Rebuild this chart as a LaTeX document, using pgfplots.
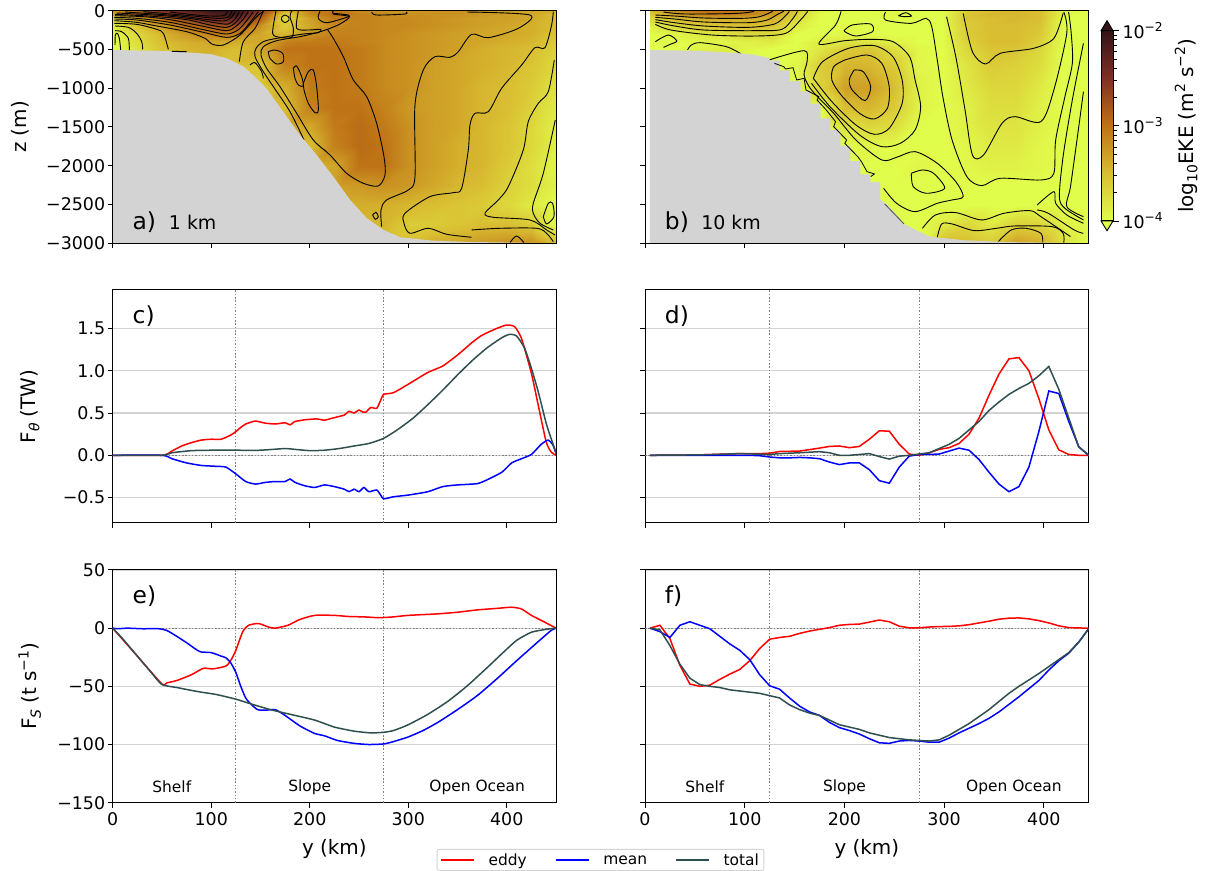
\documentclass[border=0pt]{standalone}
\usepackage{fontspec}
\setmainfont{DejaVu Sans}
\usepackage{pgfplots}
\pgfplotsset{compat=1.18}
\definecolor{dslate}{RGB}{47,79,79}
\definecolor{lgray}{RGB}{211,211,211}
\newcommand{\fs}[1]{\fontsize{#1}{#1}\selectfont}
\newcommand{\sups}[2]{\raisebox{0.42em}{\fs{#1}#2}}
\newcommand{\subs}[2]{\raisebox{-0.2em}{\fs{#1}#2}}
\def\zrow{(-40*(\coordindex>18)-60*(\coordindex>37)-100*(\coordindex>56)-100*(\coordindex>75)-100*(\coordindex>94)-100*(\coordindex>113)-200*(\coordindex>132)-300*(\coordindex>151)-250*(\coordindex>170)-250*(\coordindex>189)-250*(\coordindex>208)-250*(\coordindex>227)-250*(\coordindex>246)-250*(\coordindex>265)-250*(\coordindex>284)-250*(\coordindex>303))}
\pgfplotsset{
 colormap={solar}{rgb255=(225,253,75) rgb255=(217,190,50) rgb255=(190,115,22) rgb255=(128,48,35) rgb255=(52,20,25)},
 base/.style={scale only axis, anchor=south west, tick align=outside, major tick length=5bp,
   xtick pos=bottom, ytick pos=left, minor tick num=0, axis line style={line width=1bp},
   every tick/.append style={line width=1bp,black},
   tick label style={font=\fs{17.5}}, xticklabel style={yshift=-1bp}, yticklabel style={xshift=1bp},
   every axis x label/.style={at={(axis description cs:0.5,-0.2)},anchor=center,font=\fs{20}},
   xtick={0,100,200,300,400}},
 left/.style={xmin=0,xmax=450,width=443.3bp},
 right/.style={xmin=0,xmax=445,width=443.7bp},
 field/.style={surf,shader=interp,mesh/cols=19,point meta=\thisrowno{0},
   colormap name=solar,point meta min=-4,point meta max=-2},
 cA/.style={black,line width=0.9bp,smooth,tension=0.5,x filter/.expression={(x-38)*0.3383},y filter/.expression={-(y-32)*4.298}},
 cB/.style={black,line width=0.9bp,smooth,tension=0.5,x filter/.expression={(x-40)/2.695},y filter/.expression={-(y-32)*4.298}},
 dots/.style={gray,line width=1.3bp,dash pattern=on 1.5bp off 1.8bp,forget plot},
 eddy/.style={red,line width=1.5bp},
 mean/.style={blue,line width=1.5bp},
 total/.style={dslate,line width=1.5bp},
 soft/.style={smooth,tension=0.35},
 cd/.style={ymin=-0.8,ymax=1.954,height=233bp,ytick={-0.5,0,0.5,1,1.5},ymajorgrids,
   major grid style={lgray,line width=1.3bp},xticklabels={}},
 ef/.style={ymin=-150,ymax=50,height=232.7bp,ytick={-150,-100,-50,0,50},ymajorgrids,
   major grid style={lgray,line width=0.9bp},xticklabels={0,100,200,300,400},xlabel={y (km)}},
 ab/.style={ymin=-3000,ymax=0,height=232.6bp,ytick={-3000,-2500,-2000,-1500,-1000,-500,0},xticklabels={},axis on top},
}
\begin{document}
\begin{tikzpicture}[x=1bp,y=1bp]
\path[use as bounding box] (0,0) rectangle (1211,871);
% ---------- panel a
\begin{axis}[base,left,ab,at={(112.7bp,627.7bp)},
  yticklabels={−3000,−2500,−2000,−1500,−1000,−500,0},
  ylabel={z (m)},every axis y label/.style={at={(axis description cs:-0.209,0.5)},rotate=90,anchor=center,font=\fs{20}}]
\addplot[field] table[row sep=\\,header=false,x expr={mod(\coordindex,19)*25},y expr={\zrow}]{
-3.25\\-2.85\\-2.5\\-2.3\\-2.05\\-2.0\\-2.6\\-3.4\\-3.1\\-3.0\\-3.15\\-3.2\\-3.25\\-3.2\\-3.2\\-3.25\\-3.3\\-3.35\\-3.4\\
-3.35\\-2.95\\-2.7\\-2.45\\-2.2\\-2.05\\-2.7\\-3.65\\-3.15\\-2.95\\-3.1\\-3.15\\-3.2\\-3.2\\-3.2\\-3.25\\-3.3\\-3.35\\-3.5\\
-3.7\\-3.3\\-3.0\\-2.65\\-2.4\\-2.3\\-2.85\\-3.7\\-3.3\\-3.05\\-3.1\\-3.15\\-3.15\\-3.2\\-3.25\\-3.3\\-3.3\\-3.35\\-3.5\\
-3.9\\-3.55\\-3.3\\-3.0\\-2.8\\-2.75\\-3.2\\-3.6\\-3.35\\-3.15\\-3.1\\-3.15\\-3.15\\-3.2\\-3.25\\-3.3\\-3.35\\-3.4\\-3.5\\
-3.95\\-3.7\\-3.45\\-3.25\\-3.1\\-3.1\\-3.35\\-3.45\\-3.2\\-3.1\\-3.1\\-3.15\\-3.2\\-3.25\\-3.3\\-3.35\\-3.35\\-3.4\\-3.55\\
-4\\-3.75\\-3.5\\-3.4\\-3.35\\-3.4\\-3.35\\-3.1\\-3.05\\-3.05\\-3.1\\-3.15\\-3.2\\-3.25\\-3.3\\-3.35\\-3.4\\-3.45\\-3.6\\
-4\\-3.8\\-3.55\\-3.45\\-3.4\\-3.5\\-3.35\\-3.0\\-3.0\\-3.0\\-3.05\\-3.15\\-3.2\\-3.25\\-3.3\\-3.4\\-3.45\\-3.5\\-3.65\\
-3.5\\-3.5\\-3.5\\-3.5\\-3.5\\-3.5\\-3.55\\-3.1\\-3.0\\-3.0\\-3.05\\-3.15\\-3.2\\-3.3\\-3.35\\-3.4\\-3.45\\-3.55\\-3.7\\
-3.6\\-3.6\\-3.6\\-3.6\\-3.6\\-3.6\\-3.6\\-3.4\\-3.05\\-3.0\\-3.05\\-3.15\\-3.2\\-3.3\\-3.35\\-3.45\\-3.5\\-3.6\\-3.8\\
-3.5\\-3.5\\-3.5\\-3.5\\-3.5\\-3.5\\-3.5\\-3.5\\-3.1\\-3.0\\-3.0\\-3.1\\-3.25\\-3.3\\-3.35\\-3.45\\-3.5\\-3.65\\-3.85\\
-3.4\\-3.4\\-3.4\\-3.4\\-3.4\\-3.4\\-3.4\\-3.4\\-3.35\\-3.05\\-2.95\\-3.05\\-3.2\\-3.3\\-3.35\\-3.45\\-3.55\\-3.7\\-3.9\\
-3.5\\-3.5\\-3.5\\-3.5\\-3.5\\-3.5\\-3.5\\-3.5\\-3.5\\-3.1\\-2.95\\-3.0\\-3.2\\-3.3\\-3.4\\-3.45\\-3.55\\-3.7\\-3.9\\
-3.4\\-3.4\\-3.4\\-3.4\\-3.4\\-3.4\\-3.4\\-3.4\\-3.4\\-3.35\\-3.0\\-3.0\\-3.2\\-3.3\\-3.4\\-3.45\\-3.6\\-3.75\\-3.95\\
-3.3\\-3.3\\-3.3\\-3.3\\-3.3\\-3.3\\-3.3\\-3.3\\-3.3\\-3.3\\-3.25\\-3.2\\-3.25\\-3.35\\-3.45\\-3.5\\-3.65\\-3.75\\-3.9\\
-3.4\\-3.4\\-3.4\\-3.4\\-3.4\\-3.4\\-3.4\\-3.4\\-3.4\\-3.4\\-3.4\\-3.4\\-3.45\\-3.5\\-3.55\\-3.6\\-3.7\\-3.85\\-4\\
-3.45\\-3.45\\-3.45\\-3.45\\-3.45\\-3.45\\-3.45\\-3.45\\-3.45\\-3.45\\-3.45\\-3.45\\-3.6\\-3.6\\-3.55\\-3.5\\-3.5\\-3.6\\-4\\
-3.5\\-3.5\\-3.5\\-3.5\\-3.5\\-3.5\\-3.5\\-3.5\\-3.5\\-3.5\\-3.5\\-3.5\\-3.5\\-3.4\\-3.35\\-3.25\\-3.2\\-3.2\\-3.5\\
};
% contours a (traced on the picture)
\addplot[cA] coordinates {(682,88)(700,115)(730,170)(760,240)(800,290)(830,370)(852,470)(855,525)(835,558)(790,550)(740,520)(690,465)(640,420)(590,340)(540,260)(500,205)(483,165)(490,140)(530,122)(600,110)(650,98)(682,88)(720,72)(748,50)(700,42)(700,33)};
\addplot[cA] coordinates {(595,33)(590,85)(625,90)(662,88)(655,98)(610,102)(530,115)(490,125)(468,145)(465,170)(490,215)(520,260)(570,335)(612,420)};
\addplot[cA] coordinates {(660,33)(655,55)(680,68)(740,52)(745,45)(700,40)};
\addplot[cA] coordinates {(490,33)(465,85)(430,125)(418,185)};
\addplot[cA] coordinates {(528,33)(518,100)(540,112)(575,112)(580,85)(570,50)(575,33)};
\addplot[cA] coordinates {(555,45)(565,50)(567,60)(555,68)(545,60)(546,50)(555,45)};
\addplot[cA] coordinates {(505,155)(525,150)(548,160)(550,185)(530,192)(510,175)(505,155)};
\addplot[cA] coordinates {(580,205)(590,198)(605,230)(610,258)(595,255)(585,235)(580,205)};
\addplot[cA] coordinates {(610,250)(625,215)(640,210)(650,260)(655,330)(645,338)(625,310)(612,270)(610,250)};
\addplot[cA] coordinates {(815,36)(830,45)(915,42)(918,36)};
\addplot[cA] coordinates {(1102,36)(1290,45)(1255,85)(1165,113)(1115,103)(1075,155)(1050,172)(1005,170)(970,210)(945,315)(945,530)(925,570)(860,600)(843,630)(845,680)};
\addplot[cA] coordinates {(1360,35)(1355,75)(1335,143)(1305,143)(1265,195)(1205,265)(1165,335)(1125,340)(1110,375)(1105,450)(1085,565)(1060,578)(990,590)(915,640)(912,670)(930,700)(985,685)(1040,703)(1115,712)};
\addplot[cA] coordinates {(1363,180)(1345,275)(1315,310)(1285,365)(1270,450)(1225,560)(1195,600)(1155,640)(1180,652)(1290,660)(1340,690)(1365,705)};
\addplot[cA] coordinates {(1115,690)(1200,685)(1310,685)(1340,700)(1360,725)};
\addplot[cA] coordinates {(1366,360)(1330,520)(1300,610)(1300,640)(1320,670)(1360,690)};
\addplot[cA] coordinates {(1330,650)(1345,610)(1358,610)(1362,650)(1340,672)(1330,650)};
\addplot[cA] coordinates {(1230,728)(1250,708)(1272,728)};
\addplot[cA] coordinates {(818,645)(828,637)(835,650)(826,658)(818,645)};
\addplot[cA] coordinates {(450,195)(465,188)(485,215)(490,235)};
% left-hand stack
\addplot[cA] coordinates {(45,135)(46,105)(52,100)(58,115)(62,150)};
\addplot[cA] coordinates {(45,92)(65,95)(85,115)(88,150)};
\addplot[cA] coordinates {(45,78)(85,82)(110,100)(125,125)(128,148)};
\addplot[cA] coordinates {(43,70)(110,73)(170,88)(190,100)(205,148)};
\addplot[cA] coordinates {(43,62)(110,67)(170,78)(260,95)(315,115)(335,132)(370,135)(420,105)(470,50)(490,35)};
\addplot[cA] coordinates {(43,57)(110,60)(210,75)(310,97)(380,112)(420,100)(450,67)(475,35)};
\addplot[cA] coordinates {(43,52)(110,55)(210,67)(310,89)(380,102)(415,89)(440,62)(460,35)};
\addplot[cA] coordinates {(45,47)(130,50)(210,59)(310,79)(380,92)(410,77)(430,57)(445,35)};
\addplot[cA] coordinates {(45,43)(160,49)(260,59)(330,75)(380,82)(410,65)(430,35)};
\addplot[cA] coordinates {(50,39)(190,47)(280,57)(350,69)(385,72)(405,57)(418,35)};
\addplot[cA] coordinates {(75,36)(230,47)(310,57)(370,63)(395,51)(405,35)};
\addplot[cA] coordinates {(130,35)(270,47)(350,55)(385,51)(395,35)};
\addplot[cA] coordinates {(210,36)(310,47)(370,47)(382,35)};
% topography
\addplot[fill=lgray,draw=none] coordinates {(0,-507)(55,-520)(99,-559)(116,-615)(133,-722)(146,-872)(156,-1001)(173,-1302)(190,-1603)(207,-1861)(224,-2141)(241,-2441)(258,-2678)(275,-2828)(292,-2923)(325,-2966)(362,-2983)(450,-3000)(0,-3000)} --cycle;
\addplot[black,line width=1bp] coordinates {(60,-525)(75,-528)};
\node[anchor=base west,font=\fs{23.5}] at (rel axis cs:0.037,0.06) {a)};
\node[anchor=base west,font=\fs{19}] at (rel axis cs:0.119,0.06) {1 km};
\end{axis}
% ---------- panel b
\begin{axis}[base,right,ab,at={(645bp,627.7bp)},yticklabels={}]
\addplot[field] table[row sep=\\,header=false,x expr={5+mod(\coordindex,19)*24.444},y expr={\zrow}]{
-3.5\\-3.2\\-3.0\\-3.0\\-3.05\\-3.2\\-3.6\\-3.95\\-4\\-4\\-4\\-4\\-4\\-3.6\\-3.5\\-3.45\\-3.5\\-3.95\\-4\\
-3.6\\-3.3\\-3.1\\-3.05\\-3.1\\-3.25\\-3.65\\-4\\-4\\-4\\-3.95\\-4\\-4\\-3.55\\-3.45\\-3.45\\-3.5\\-3.95\\-4\\
-3.7\\-3.5\\-3.4\\-3.35\\-3.4\\-3.4\\-3.7\\-4\\-4\\-4\\-4\\-4\\-4\\-3.55\\-3.5\\-3.45\\-3.5\\-4\\-4\\
-3.9\\-3.7\\-3.6\\-3.55\\-3.5\\-3.55\\-3.85\\-4\\-4\\-4\\-4\\-4\\-4\\-3.6\\-3.5\\-3.5\\-3.55\\-4\\-4\\
-4\\-3.95\\-3.85\\-3.8\\-3.7\\-3.7\\-4\\-4\\-3.95\\-4\\-4\\-4\\-4\\-3.6\\-3.5\\-3.5\\-3.6\\-4\\-4\\
-4\\-4\\-3.95\\-3.95\\-3.9\\-3.85\\-4\\-3.85\\-3.8\\-3.8\\-3.9\\-4\\-4\\-3.65\\-3.5\\-3.5\\-3.65\\-4\\-4\\
-4\\-4\\-3.9\\-3.85\\-3.95\\-4\\-4\\-3.8\\-3.6\\-3.55\\-3.75\\-3.95\\-4\\-3.7\\-3.55\\-3.55\\-3.7\\-4\\-4\\
-4\\-4\\-4\\-4\\-4\\-4\\-3.95\\-3.6\\-3.45\\-3.45\\-3.6\\-3.95\\-4\\-3.8\\-3.6\\-3.65\\-3.75\\-4\\-4\\
-4\\-4\\-4\\-4\\-4\\-4\\-4\\-3.65\\-3.3\\-3.3\\-3.5\\-3.9\\-4\\-3.85\\-3.7\\-3.7\\-3.85\\-4\\-4\\
-4\\-4\\-4\\-4\\-4\\-4\\-4\\-4\\-3.5\\-3.45\\-3.6\\-3.9\\-4\\-3.9\\-3.75\\-3.75\\-3.9\\-4\\-4\\
-4\\-4\\-4\\-4\\-4\\-4\\-4\\-4\\-3.8\\-3.7\\-3.75\\-4\\-4\\-3.9\\-3.8\\-3.8\\-3.9\\-4\\-4\\
-4\\-4\\-4\\-4\\-4\\-4\\-4\\-4\\-4\\-3.95\\-4\\-4\\-4\\-3.95\\-3.85\\-3.85\\-3.95\\-4\\-4\\
-4\\-4\\-4\\-4\\-4\\-4\\-4\\-4\\-4\\-4\\-4\\-3.95\\-4\\-3.95\\-3.9\\-3.9\\-3.95\\-4\\-4\\
-4\\-4\\-4\\-4\\-4\\-4\\-4\\-4\\-4\\-4\\-4\\-4\\-4\\-4\\-4\\-4\\-4\\-4\\-4\\
-4\\-4\\-4\\-4\\-4\\-4\\-4\\-4\\-4\\-4\\-4\\-4\\-4\\-4\\-4\\-4\\-4\\-4\\-4\\
-4\\-4\\-4\\-4\\-4\\-4\\-4\\-4\\-4\\-4\\-4\\-4\\-3.85\\-3.7\\-3.85\\-3.65\\-3.7\\-3.9\\-4\\
-4\\-4\\-4\\-4\\-4\\-4\\-4\\-4\\-4\\-4\\-4\\-4\\-3.5\\-3.5\\-3.6\\-3.3\\-3.4\\-3.8\\-4\\
};
\addplot[cB] coordinates {(90,36)(150,42)(290,40)(335,34)};
\addplot[cB] coordinates {(68,45)(120,48)(200,54)(300,55)(350,50)(385,34)};
\addplot[cB] coordinates {(68,52)(120,57)(200,66)(320,68)(370,60)(400,42)(415,34)};
\addplot[cB] coordinates {(68,59)(120,68)(200,78)(320,82)(390,72)(420,47)(430,34)};
\addplot[cB] coordinates {(68,66)(120,78)(200,90)(340,92)(410,88)(440,55)(452,34)};
\addplot[cB] coordinates {(68,73)(110,90)(220,105)(340,108)(420,100)(460,60)(480,34)};
\addplot[cB] coordinates {(68,125)(103,105)(126,123)(108,133)(90,142)};
\addplot[cB] coordinates {(155,150)(165,135)(190,128)(260,140)(300,162)};
\addplot[cB] coordinates {(375,180)(470,152)(478,185)(470,225)(490,270)(550,340)(610,420)(680,480)(720,472)(770,455)(830,490)(880,545)(900,590)(870,600)(830,610)(770,635)(720,610)(685,565)};
\addplot[cB] coordinates {(605,210)(630,215)(650,260)(635,302)(600,270)(592,240)(605,210)};
\addplot[cB] coordinates {(580,180)(640,165)(680,190)(700,260)(695,325)(660,357)(620,340)(570,285)(545,240)(550,200)(580,180)};
\addplot[cB] coordinates {(495,235)(520,185)(590,145)(660,137)(710,170)(735,240)(735,310)(700,385)(660,403)(610,375)(545,305)(495,235)};
\addplot[cB] coordinates {(570,34)(555,75)(510,132)(580,122)(650,118)(710,125)(755,170)(770,240)(785,320)(770,390)(730,430)(680,440)(620,405)(540,320)(490,250)};
\addplot[cB] coordinates {(580,90)(600,75)(650,72)(655,95)(610,108)(580,95)(580,90)};
\addplot[cB] coordinates {(725,47)(745,38)(760,48)(740,50)(725,47)};
\addplot[cB] coordinates {(690,36)(690,60)(760,70)(800,55)(815,80)(830,180)(845,290)(870,420)(910,530)(950,557)(1000,535)(1110,540)(1145,520)(1150,420)(1175,290)(1195,190)(1192,100)(1185,36)};
\addplot[cB] coordinates {(855,50)(880,170)(905,330)(925,465)(955,465)(1005,370)(1040,350)(1110,365)(1145,270)(1180,100)(1172,36)};
\addplot[cB] coordinates {(900,40)(925,155)(960,192)(1000,160)(1090,145)(1145,115)(1170,40)};
\addplot[cB] coordinates {(760,520)(790,510)(820,520)(850,565)(800,580)(765,560)(760,520)};
\addplot[cB] coordinates {(1225,275)(1210,400)(1190,560)(1180,620)(1225,650)};
\addplot[cB] coordinates {(1225,130)(1195,300)(1170,470)(1160,590)(1175,625)(1225,660)};
\addplot[cB] coordinates {(1100,615)(1145,575)(1150,610)(1180,645)(1225,670)};
\addplot[cB] coordinates {(790,685)(825,645)(880,638)(950,660)(1010,640)(1080,632)(1110,650)(1190,710)};
\addplot[cB] coordinates {(830,712)(842,672)(870,672)(930,692)(990,685)(1040,678)(1140,680)(1170,700)(1172,728)};
\addplot[cB] coordinates {(995,725)(1030,690)(1070,685)(1110,700)(1115,728)};
\addplot[cB] coordinates {(1100,630)(1130,640)(1200,690)(1225,700)};
\addplot[fill=lgray,draw=none] coordinates {(5,-507)(55,-518)(92,-545)(110,-570)(125,-610)(125,-640)(135,-640)(135,-770)(145,-770)(145,-910)(156,-910)(156,-1040)(166,-1040)(166,-1200)(176,-1200)(176,-1390)(186,-1390)(186,-1540)(196,-1540)(196,-1740)(206,-1740)(206,-1940)(216,-1940)(216,-2110)(226,-2110)(226,-2210)(236,-2210)(236,-2440)(243,-2500)(260,-2750)(275,-2850)(286,-2915)(319,-2960)(364,-2985)(445,-3000)(5,-3000)} --cycle;
\addplot[black,line width=0.8bp,x filter/.expression={(x-40)/2.695},y filter/.expression={-(y-32)*4.298}] coordinates {(390,190)(415,200)(420,207)(440,203)(450,240)(470,235)(475,270)(510,290)(505,300)(530,330)(555,365)(550,380)(585,420)(580,430)(615,470)(625,485)(640,515)(660,522)(650,530)};
\addplot[black!70,line width=0.8bp,x filter/.expression={(x-40)/2.695},y filter/.expression={-(y-32)*4.298}] coordinates {(688,612)(740,672)};
\node[anchor=base west,font=\fs{23.5}] at (rel axis cs:0.037,0.06) {b)};
\node[anchor=base west,font=\fs{19}] at (rel axis cs:0.119,0.06) {10 km};
\end{axis}
% ---------- colour bar (y is log10 of EKE)
\begin{axis}[scale only axis,anchor=south west,at={(1101bp,650bp)},width=12bp,height=190.3bp,
  ymin=-4,ymax=-2,xmin=0,xmax=1,xtick=\empty,clip=false,
  ytick pos=right,yticklabel pos=right,tick align=outside,major tick length=6bp,minor tick length=3.5bp,
  axis line style={line width=1bp},every tick/.append style={line width=0.9bp,black},
  ytick={-4,-3,-2},yticklabels={10\sups{12.3}{−4},10\sups{12.3}{−3},10\sups{12.3}{−2}},
  minor ytick={-3.699,-3.523,-3.398,-3.301,-3.222,-3.155,-3.097,-3.046,-2.699,-2.523,-2.398,-2.301,-2.222,-2.155,-2.097,-2.046},
  yticklabel style={font=\fs{17.5}},
  ylabel={log\subs{14}{10}EKE (m\sups{14}{2} s\sups{14}{−2})},
  every axis y label/.style={at={(axis description cs:7.1,0.5)},rotate=90,anchor=center,font=\fs{20}},
  axis on top]
\addplot[surf,shader=interp,mesh/cols=2,colormap name=solar,point meta=explicit,point meta min=-4,point meta max=-2] coordinates {(0,-4)[-4] (1,-4)[-4] (0,-2)[-2] (1,-2)[-2]};
\addplot[fill={rgb,255:red,52;green,20;blue,25},draw=black,line width=0.9bp] coordinates {(0,-2)(0.5,-1.895)(1,-2)} --cycle;
\addplot[fill={rgb,255:red,225;green,253;blue,75},draw=black,line width=0.9bp] coordinates {(0,-4)(0.5,-4.102)(1,-4)} --cycle;
\end{axis}
% ---------- panel c
\begin{axis}[base,left,cd,at={(112.7bp,348bp)},
  yticklabels={−0.5,0.0,0.5,1.0,1.5},
  ylabel={F\subs{14}{\itshape θ} (TW)},every axis y label/.style={at={(axis description cs:-0.187,0.5)},rotate=90,anchor=center,font=\fs{20}}]
\addplot[dots] coordinates {(125,-0.8)(125,1.954)};
\addplot[dots] coordinates {(275,-0.8)(275,1.954)};
\addplot[dots] coordinates {(0,0)(450,0)};
\addplot[eddy,soft] coordinates {(0,0)(50,0)(60,0.05)(70,0.11)(80,0.15)(90,0.18)(100,0.19)(110,0.19)(120,0.24)(125,0.28)(130,0.33)(135,0.37)(140,0.39)(145,0.405)(155,0.38)(165,0.37)(175,0.385)(180,0.36)(185,0.40)(190,0.41)(195,0.42)(200,0.425)(207,0.43)(215,0.415)(220,0.43)(225,0.445)(230,0.46)(235,0.475)(240,0.52)(245,0.50)(250,0.535)(254,0.51)(257,0.51)(262,0.565)(268,0.555)(272,0.65)(275,0.72)(285,0.74)(300,0.84)(320,0.98)(335,1.055)(350,1.185)(365,1.335)(375,1.42)(390,1.50)(400,1.54)(408,1.52)(415,1.38)(425,0.97)(432,0.59)(440,0.16)(445,0.04)(450,0)};
\addplot[mean,soft] coordinates {(0,0)(50,0)(60,-0.04)(75,-0.09)(90,-0.12)(105,-0.13)(115,-0.14)(125,-0.22)(135,-0.31)(145,-0.34)(155,-0.32)(165,-0.31)(175,-0.31)(180,-0.28)(185,-0.32)(195,-0.36)(205,-0.38)(215,-0.35)(225,-0.37)(235,-0.4)(240,-0.43)(245,-0.4)(250,-0.43)(255,-0.38)(260,-0.43)(268,-0.41)(272,-0.47)(275,-0.515)(285,-0.49)(300,-0.47)(320,-0.43)(335,-0.37)(350,-0.35)(370,-0.335)(380,-0.29)(395,-0.2)(405,-0.09)(415,-0.04)(425,0.01)(435,0.13)(442,0.18)(447,0.12)(450,0.02)};
\addplot[total,soft] coordinates {(0,0)(50,0)(60,0.03)(80,0.055)(100,0.06)(125,0.06)(150,0.06)(175,0.08)(185,0.07)(200,0.055)(215,0.06)(230,0.08)(245,0.11)(260,0.14)(275,0.20)(290,0.31)(305,0.44)(320,0.6)(335,0.77)(350,0.95)(365,1.12)(380,1.27)(395,1.39)(403,1.43)(410,1.41)(418,1.27)(425,1.03)(432,0.75)(440,0.38)(445,0.2)(450,0.03)};
\node[anchor=base west,font=\fs{23.5}] at (rel axis cs:0.037,0.855) {c)};
\end{axis}
% ---------- panel d
\begin{axis}[base,right,cd,at={(645bp,348bp)},yticklabels={}]
\addplot[dots] coordinates {(125,-0.8)(125,1.954)};
\addplot[dots] coordinates {(275,-0.8)(275,1.954)};
\addplot[dots] coordinates {(0,0)(445,0)};
\addplot[eddy] coordinates {(5,0)(55,0.005)(95,0.02)(115,0.02)(125,0.025)(135,0.045)(155,0.05)(175,0.085)(185,0.105)(195,0.11)(205,0.09)(215,0.105)(225,0.19)(235,0.29)(245,0.285)(255,0.13)(265,0.015)(275,0)(285,0.03)(295,0.07)(305,0.09)(315,0.14)(325,0.25)(335,0.44)(345,0.71)(355,0.96)(365,1.14)(375,1.155)(385,1.0)(395,0.67)(405,0.3)(415,0.065)(425,0.01)(435,0)(445,0)};
\addplot[mean] coordinates {(5,0)(55,0)(105,0)(115,-0.005)(125,-0.02)(135,-0.03)(145,-0.03)(155,-0.025)(165,-0.03)(175,-0.04)(185,-0.08)(195,-0.11)(205,-0.09)(215,-0.09)(225,-0.17)(235,-0.3)(245,-0.33)(255,-0.14)(265,-0.01)(275,0.01)(285,0.01)(295,0.015)(305,0.05)(315,0.085)(325,0.06)(335,-0.05)(345,-0.2)(355,-0.34)(365,-0.43)(375,-0.37)(385,-0.14)(395,0.28)(405,0.76)(415,0.73)(425,0.4)(435,0.1)(445,0)};
\addplot[total] coordinates {(5,0)(55,0.005)(95,0.02)(125,0.01)(135,0.02)(155,0.03)(175,0.043)(185,0.03)(195,0)(205,0)(215,0.01)(225,0.02)(235,-0.015)(245,-0.045)(255,-0.01)(265,0)(275,0.015)(285,0.03)(295,0.08)(305,0.13)(315,0.2)(325,0.3)(335,0.4)(345,0.53)(355,0.63)(365,0.72)(375,0.79)(385,0.85)(395,0.94)(405,1.05)(415,0.78)(425,0.44)(435,0.1)(445,0)};
\node[anchor=base west,font=\fs{23.5}] at (rel axis cs:0.037,0.855) {d)};
\end{axis}
% ---------- panel e
\begin{axis}[base,left,ef,at={(112.7bp,68.3bp)},
  yticklabels={−150,−100,−50,0,50},
  ylabel={F\subs{14}{\itshape S} (t s\sups{14}{−1})},every axis y label/.style={at={(axis description cs:-0.187,0.5)},rotate=90,anchor=center,font=\fs{20}}]
\addplot[dots] coordinates {(125,-150)(125,50)};
\addplot[dots] coordinates {(275,-150)(275,50)};
\addplot[dots] coordinates {(0,0)(450,0)};
\addplot[eddy,soft] coordinates {(0,0)(25,-24)(50,-48)(55,-47)(65,-45)(80,-40)(92,-34.5)(102,-35)(115,-32.5)(120,-27.5)(125,-19)(132,-3)(138,2.5)(148,4)(158,1)(165,0)(178,2.5)(190,7.5)(205,11)(225,11)(240,10)(255,9.7)(270,9)(285,9.7)(300,11)(330,12.3)(350,13.7)(370,15.7)(390,17)(405,18)(415,16.5)(425,11)(440,4.5)(450,0)};
\addplot[mean,soft] coordinates {(0,0)(5,-0.5)(15,0)(30,-0.5)(47,-0.5)(55,-2)(65,-7)(75,-12.5)(85,-18.5)(90,-20.5)(100,-21)(110,-24)(115,-25.5)(120,-30)(125,-38)(130,-50)(135,-60)(140,-65)(147,-70)(155,-70.5)(165,-70)(175,-75)(190,-84)(205,-90.5)(215,-92.5)(228,-96.5)(245,-99)(260,-100)(275,-99.5)(285,-97.5)(300,-93.5)(315,-88)(330,-81)(350,-70)(370,-58)(390,-43.5)(410,-28)(430,-13)(445,-2)(450,0)};
\addplot[total,soft] coordinates {(0,0)(10,-9)(25,-24)(40,-39)(50,-48.5)(65,-51)(80,-53.5)(90,-55)(105,-57)(125,-61)(140,-65)(160,-70)(180,-74)(205,-79)(225,-85)(245,-88.5)(262,-90)(275,-89.5)(285,-88)(300,-83)(320,-74)(340,-63)(360,-49.5)(380,-34)(395,-22)(410,-10.5)(425,-3.5)(440,-1)(450,0)};
\node[anchor=base west,font=\fs{23.5}] at (rel axis cs:0.037,0.855) {e)};
\node[font=\fs{15.5}] at (axis cs:60,-136.5) {Shelf};
\node[font=\fs{15.5}] at (axis cs:200,-136.5) {Slope};
\node[font=\fs{15.5}] at (axis cs:370,-136.5) {Open Ocean};
\end{axis}
% ---------- panel f
\begin{axis}[base,right,ef,at={(645bp,68.3bp)},yticklabels={},
  legend style={at={(-0.4695,-0.2935)},anchor=south west,draw=lgray,rounded corners=2bp,fill=white,font=\fs{15.5},inner xsep=3bp,inner ysep=2bp,line width=0.9bp},
  legend columns=3,legend cell align=left,
  legend image code/.code={\draw[#1] (0,0) -- (33bp,0);},
  /tikz/every odd column/.append style={column sep=12bp},
  /tikz/every even column/.append style={column sep=26bp}]
\addplot[dots] coordinates {(125,-150)(125,50)};
\addplot[dots] coordinates {(275,-150)(275,50)};
\addplot[dots] coordinates {(0,0)(445,0)};
\addplot[eddy] coordinates {(5,0)(15,2.5)(25,-9)(35,-32)(45,-48)(55,-50)(65,-49)(75,-44)(85,-39.5)(95,-35.5)(105,-28)(115,-17.5)(125,-9.5)(135,-8)(145,-7)(155,-4.5)(165,-2.5)(175,-1)(185,0.5)(195,2.5)(205,3.2)(215,3.5)(225,5.2)(235,7)(245,5.5)(255,1.7)(265,0.3)(275,0.3)(285,1)(295,1.4)(305,1.5)(315,2)(325,3)(335,4.5)(345,6)(355,7.7)(365,8.6)(375,8.8)(385,8)(395,6.5)(405,4.5)(415,2)(425,0.5)(435,0.2)(445,0)};
\addlegendentry{\strut eddy}
\addplot[mean] coordinates {(5,0)(15,-3)(25,-8)(35,2.5)(45,5.5)(55,2.5)(65,-0.5)(75,-7)(85,-13.5)(95,-19)(105,-27)(115,-40)(125,-49.5)(135,-52.5)(145,-60)(155,-67)(165,-72)(175,-75)(185,-81)(195,-85.5)(205,-88)(215,-91)(225,-95)(235,-98.5)(245,-99)(255,-97)(265,-96.5)(275,-97)(285,-98)(295,-98)(305,-94.5)(315,-90)(325,-86)(335,-82)(345,-77.5)(355,-72)(365,-65.5)(375,-59)(385,-52)(395,-45)(405,-36)(415,-28)(425,-21.5)(435,-12)(445,-0.5)};
\addlegendentry{\strut mean}
\addplot[total] coordinates {(5,0)(15,-1.5)(25,-15)(35,-31)(45,-43)(55,-48.5)(65,-50)(75,-51)(85,-53)(95,-54)(105,-55)(115,-56)(125,-58)(135,-60)(145,-66)(155,-70)(165,-73)(175,-75)(185,-79)(195,-83)(205,-85)(215,-87)(225,-90)(235,-92)(245,-94)(255,-95)(265,-96)(275,-96.5)(285,-97)(295,-96)(305,-92)(315,-87)(325,-82)(335,-76)(345,-70)(355,-63)(365,-56)(375,-50)(385,-44.5)(395,-39)(405,-33)(415,-27)(425,-21)(435,-12)(445,-0.5)};
\addlegendentry{\strut total}
\node[anchor=base west,font=\fs{23.5}] at (rel axis cs:0.037,0.855) {f)};
\node[font=\fs{15.5}] at (axis cs:60,-136.5) {Shelf};
\node[font=\fs{15.5}] at (axis cs:200,-136.5) {Slope};
\node[font=\fs{15.5}] at (axis cs:370,-136.5) {Open Ocean};
\end{axis}
\end{tikzpicture}
\end{document}
